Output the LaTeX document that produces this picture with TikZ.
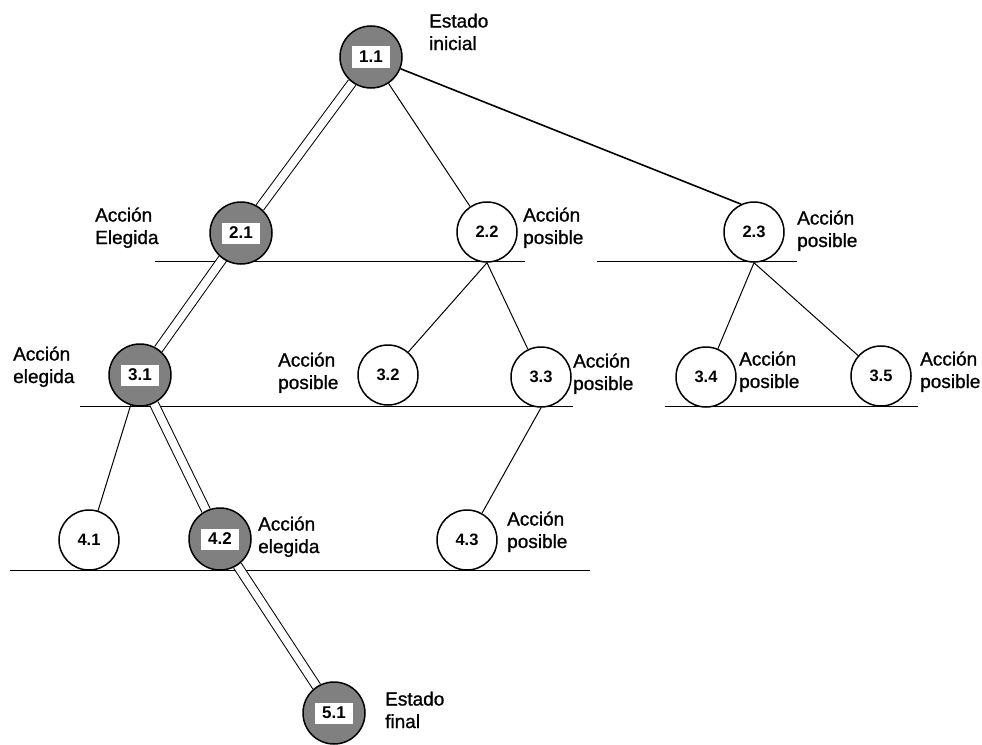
\documentclass[tikz,border=0pt]{standalone}
\usepackage{fontspec}
\setmainfont{Liberation Sans}
\newfontfamily\lblfont[FakeBold=1]{Liberation Sans}
\definecolor{nodegray}{RGB}{128,128,128}
\pgfdeclarelayer{background}
\pgfsetlayers{background,main}
\newcommand\numbox[1]{{\setlength\fboxsep{0pt}\colorbox{white}{\makebox[38pt]{\rule[-5pt]{0pt}{21pt}#1}}}}
\begin{document}
\begin{tikzpicture}[x=1pt,y=-1pt,
  every node/.style={font=\lblfont\fontsize{19}{22.5}\selectfont},
  gnode/.style={circle,draw=black,line width=1.5pt,fill=nodegray,minimum size=62pt,inner sep=0pt,font=\bfseries\fontsize{17}{20}\selectfont},
  wnode/.style={circle,draw=black,line width=1.5pt,fill=white,minimum size=60pt,inner sep=0pt,font=\bfseries\fontsize{16.5}{20}\selectfont},
  lbl/.style={anchor=base west,align=left,inner sep=0pt},
  edge/.style={line width=1pt},
  chosen/.style={double,double distance=8pt,line width=1pt},
  levelline/.style={line width=1pt}]
\useasboundingbox (0,0) rectangle (982,744);
% nodes
\node[gnode] (n11) at (371,57) {\numbox{1.1}};
\node[gnode] (n21) at (241,233) {\numbox{2.1}};
\node[wnode] (n22) at (487,232) {2.2};
\node[wnode] (n23) at (754,232) {2.3};
\node[gnode] (n31) at (140,375) {\numbox{3.1}};
\node[wnode] (n32) at (388,375) {3.2};
\node[wnode] (n33) at (541,377) {3.3};
\node[wnode] (n34) at (706,377) {3.4};
\node[wnode] (n35) at (881,376) {3.5};
\node[wnode] (n41) at (89,540) {4.1};
\node[gnode] (n42) at (220,539) {\numbox{4.2}};
\node[wnode] (n43) at (467,540) {4.3};
\node[gnode] (n51) at (334,713) {\numbox{5.1}};
% labels (anchored at the baseline of the second line)
\node[lbl] (t11) at (429,50) {Estado\\inicial};
\node[lbl] (t21) at (95,244) {Acción\\Elegida};
\node[lbl] (t22) at (523,244) {Acción\\posible};
\node[lbl] (t23) at (797,247) {Acción\\posible};
\node[lbl] (t31) at (13,383) {Acción\\elegida};
\node[lbl] (t32) at (278,389) {Acción\\posible};
\node[lbl] (t33) at (573,390) {Acción\\posible};
\node[lbl] (t34) at (739,388) {Acción\\posible};
\node[lbl] (t35) at (920,388) {Acción\\posible};
\node[lbl] (t42) at (258,553) {Acción\\elegida};
\node[lbl] (t43) at (507,548) {Acción\\posible};
\node[lbl] (t51) at (385,728) {Estado\\final};
\begin{pgfonlayer}{background}
% level lines
\draw[levelline] (155,261) -- (525,261);
\draw[levelline] (597,261) -- (797,261);
\draw[levelline] (80,406) -- (573,406);
\draw[levelline] (665,406) -- (918,406);
\draw[levelline] (10,570) -- (590,570);
% connectors
\draw[chosen] (n11) -- (n21);
\draw[edge] (n11) -- (n22);
\draw[edge,line width=1.6pt] (n11) -- (n23.115);
\draw[chosen] (n21) -- (n31);
\draw[edge] (n22.south) -- (n32);
\draw[edge] (n22.south) -- (n33);
\draw[edge] (n23.south) -- (n34);
\draw[edge] (n23.south) -- (n35);
\draw[edge] (n31) -- (n41);
\draw[chosen] (n31) -- (n42);
\draw[edge] (n33.south) -- (n43);
\draw[chosen] (n42) -- (n51);
\end{pgfonlayer}
\end{tikzpicture}
\end{document}
